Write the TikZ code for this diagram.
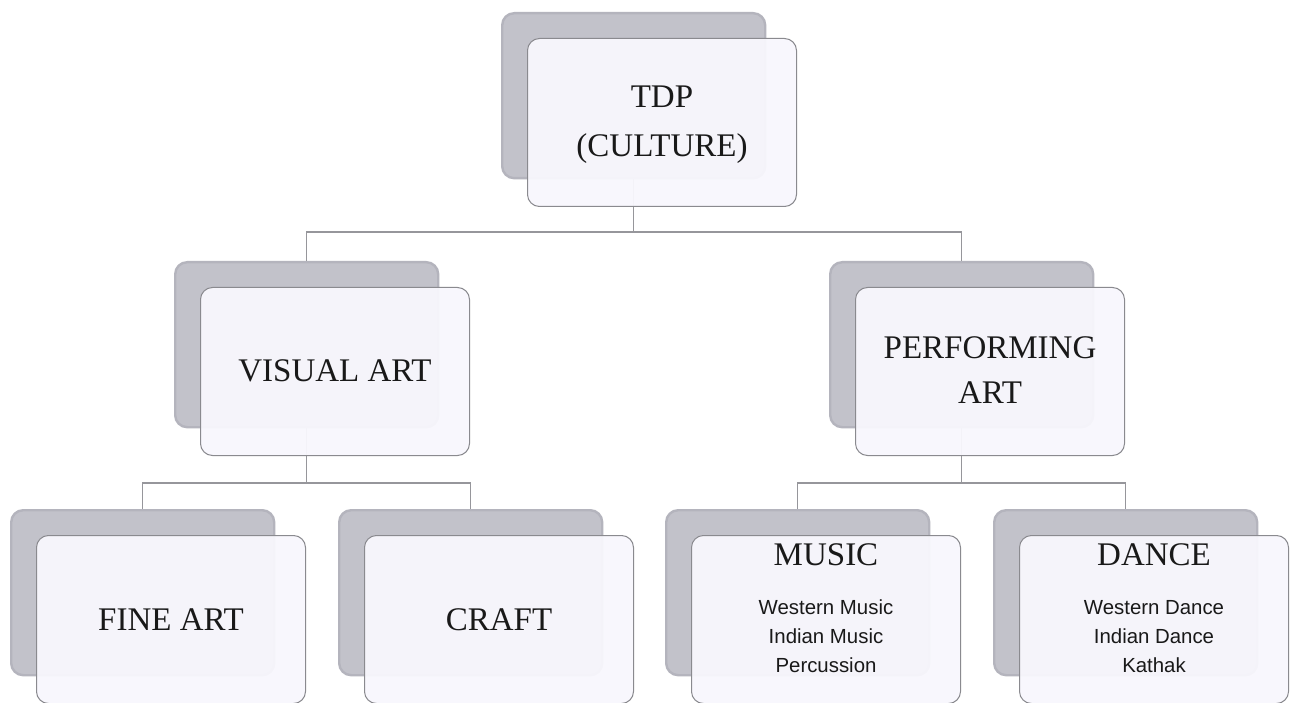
\documentclass[tikz,border=0pt]{standalone}
\usepackage{fontspec}
\setmainfont{Liberation Serif}
\newfontfamily\sansf{Liberation Sans}
\usetikzlibrary{calc}
\definecolor{shadowfill}{RGB}{194,194,202}
\definecolor{shadowedge}{RGB}{180,180,189}
\definecolor{frontfill}{RGB}{248,247,253}
\definecolor{frontedge}{RGB}{138,138,143}
\definecolor{linecol}{RGB}{150,150,155}
\tikzset{
  shadowbox/.style={rectangle, rounded corners=12pt, anchor=north west, inner sep=0pt,
    minimum width=263pt, minimum height=165pt, fill=shadowfill,
    draw=shadowedge, line width=2.4pt},
  frontbox/.style={rectangle, rounded corners=12pt, anchor=north west, inner sep=0pt,
    minimum width=269pt, minimum height=168pt, fill=frontfill, fill opacity=0.95,
    draw=frontedge, line width=1pt},
  conn/.style={draw=linecol, line width=1.2pt},
  bigtxt/.style={anchor=base, inner sep=0pt, font=\fontsize{33}{38}\selectfont, text=black!90},
  smalltxt/.style={anchor=base, inner sep=0pt, font=\sansf\fontsize{20.4}{24}\selectfont, text=black!90}
}
\begin{document}
\begin{tikzpicture}[x=1pt,y=-1pt]
\useasboundingbox (0,0) rectangle (1293,703);
\fill[white] (0,0) rectangle (1293,703);
% shadow cards
\node[shadowbox] (s-top) at (501,12) {};
\node[shadowbox] (s-vis) at (174,261) {};
\node[shadowbox] (s-perf) at (829,261) {};
\node[shadowbox] (s-fine) at (10,509) {};
\node[shadowbox] (s-craft) at (338,509) {};
\node[shadowbox] (s-music) at (665,509) {};
\node[shadowbox] (s-dance) at (993,509) {};
% connector levels
\coordinate (lvl1) at (0,232);
\coordinate (lvl2) at (0,483);
% connectors
\draw[conn] (s-top.south) -- (s-top.south |- lvl1) -| (s-vis.north);
\draw[conn] (s-top.south |- lvl1) -| (s-perf.north);
\draw[conn] (s-vis.south) -- (s-vis.south |- lvl2) -| (s-fine.north);
\draw[conn] (s-vis.south |- lvl2) -| (s-craft.north);
\draw[conn] (s-perf.south) -- (s-perf.south |- lvl2) -| (s-music.north);
\draw[conn] (s-perf.south |- lvl2) -| (s-dance.north);
% front cards
\node[frontbox] (f-top) at (527,38) {};
\node[frontbox] (f-vis) at (200,287) {};
\node[frontbox] (f-perf) at (855,287) {};
\node[frontbox] (f-fine) at (36,535) {};
\node[frontbox] (f-craft) at (364,535) {};
\node[frontbox] (f-music) at (691,535) {};
\node[frontbox] (f-dance) at (1019,535) {};
% texts
\node[bigtxt] (t-top1) at ($(f-top.north)+(0,70)$) {TDP};
\node[bigtxt] (t-top2) at ($(f-top.north)+(0,119)$) {(CULTURE)};
\node[bigtxt] (t-vis) at ($(f-vis.north)+(0,94)$) {VISUAL ART};
\node[bigtxt] (t-perf1) at ($(f-perf.north)+(0,71)$) {PERFORMING};
\node[bigtxt] (t-perf2) at ($(f-perf.north)+(0,116)$) {ART};
\node[bigtxt] (t-fine) at ($(f-fine.north)+(0,95)$) {FINE ART};
\node[bigtxt] (t-craft) at ($(f-craft.north)+(0,95)$) {CRAFT};
\node[bigtxt] (t-music) at ($(f-music.north)+(0,30)$) {MUSIC};
\node[smalltxt] (t-music1) at ($(f-music.north)+(0,79)$) {Western Music};
\node[smalltxt] (t-music2) at ($(f-music.north)+(0,108)$) {Indian Music};
\node[smalltxt] (t-music3) at ($(f-music.north)+(0,137)$) {Percussion};
\node[bigtxt] (t-dance) at ($(f-dance.north)+(0,30)$) {DANCE};
\node[smalltxt] (t-dance1) at ($(f-dance.north)+(0,79)$) {Western Dance};
\node[smalltxt] (t-dance2) at ($(f-dance.north)+(0,108)$) {Indian Dance};
\node[smalltxt] (t-dance3) at ($(f-dance.north)+(0,137)$) {Kathak};
\end{tikzpicture}
\end{document}
